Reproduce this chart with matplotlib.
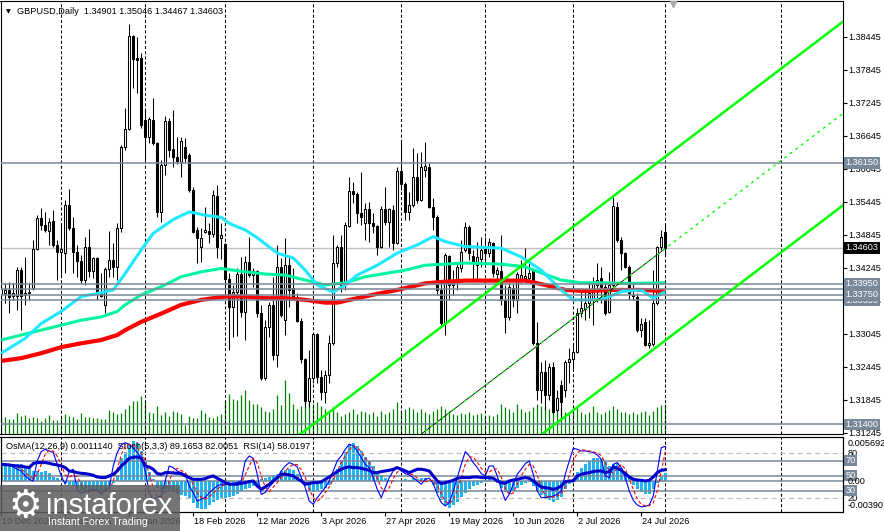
import matplotlib
matplotlib.use("Agg")
import matplotlib.pyplot as plt
import matplotlib.transforms as mtransforms
from matplotlib.patches import Rectangle
from matplotlib.ticker import FormatStrFormatter
import pandas as pd

plt.rcParams['font.family'] = ['Liberation Sans', 'DejaVu Sans']

symbol = "GBPUSD,Daily"
first_day = "2025-12-10"
closed_days = ["2025-12-25", "2026-01-01"]

# daily candles
opens = [1.3377, 1.3378, 1.3384, 1.3373, 1.3373, 1.3420, 1.3375, 1.3378, 1.3388, 1.3458,
         1.3515, 1.3502, 1.3491, 1.3509, 1.3466, 1.3453, 1.3451, 1.3538, 1.3497, 1.3453,
         1.3437, 1.3402, 1.3462, 1.3419, 1.3442, 1.3378, 1.3357, 1.3422, 1.3439, 1.3426,
         1.3497, 1.3644, 1.3677, 1.3846, 1.3806, 1.3806, 1.3693, 1.3662, 1.3693, 1.3651,
         1.3526, 1.3611, 1.3691, 1.3640, 1.3626, 1.3617, 1.3644, 1.3629, 1.3566, 1.3493,
         1.3462, 1.3489, 1.3491, 1.3486, 1.3555, 1.3479, 1.3468, 1.3404, 1.3353, 1.3380,
         1.3413, 1.3344, 1.3435, 1.3411, 1.3419, 1.3342, 1.3224, 1.3317, 1.3357, 1.3266,
         1.3426, 1.3329, 1.3429, 1.3388, 1.3371, 1.3328, 1.3258, 1.3182, 1.3224, 1.3304,
         1.3226, 1.3199, 1.3229, 1.3288, 1.3433, 1.3462, 1.3393, 1.3500, 1.3564, 1.3558,
         1.3524, 1.3506, 1.3531, 1.3506, 1.3500, 1.3462, 1.3531, 1.3508, 1.3529, 1.3469,
         1.3600, 1.3577, 1.3526, 1.3538, 1.3589, 1.3548, 1.3602, 1.3608, 1.3535, 1.3517,
         1.3384, 1.3324, 1.3446, 1.3393, 1.3398, 1.3424, 1.3457, 1.3499, 1.3446, 1.3429,
         1.3440, 1.3462, 1.3451, 1.3469, 1.3413, 1.3419, 1.3366, 1.3335, 1.3388, 1.3366,
         1.3402, 1.3406, 1.3406, 1.3419, 1.3288, 1.3202, 1.3235, 1.3193, 1.3244, 1.3166,
         1.3211, 1.3202, 1.3253, 1.3258, 1.3271, 1.3342, 1.3349, 1.3360, 1.3366, 1.3393,
         1.3406, 1.3389, 1.3344, 1.3393, 1.3535, 1.3475, 1.3451, 1.3426, 1.3375, 1.3371,
         1.3311, 1.3326, 1.3284, 1.3286, 1.3360, 1.3462, 1.34901]
highs = [1.3439, 1.3397, 1.3398, 1.3397, 1.3426, 1.3426, 1.3444, 1.3397, 1.3475, 1.3520,
         1.3533, 1.3526, 1.3515, 1.3529, 1.3475, 1.3506, 1.3548, 1.3568, 1.3517, 1.3466,
         1.3448, 1.3480, 1.3495, 1.3444, 1.3444, 1.3415, 1.3426, 1.3491, 1.3469, 1.3506,
         1.3648, 1.3715, 1.3868, 1.3848, 1.3844, 1.3815, 1.3711, 1.3699, 1.3733, 1.3653,
         1.3620, 1.3700, 1.3697, 1.3711, 1.3662, 1.3662, 1.3660, 1.3633, 1.3571, 1.3499,
         1.3497, 1.3535, 1.3506, 1.3566, 1.3575, 1.3506, 1.3469, 1.3415, 1.3393, 1.3424,
         1.3444, 1.3446, 1.3480, 1.3424, 1.3420, 1.3357, 1.3329, 1.3362, 1.3408, 1.3466,
         1.3442, 1.3479, 1.3444, 1.3424, 1.3378, 1.3333, 1.3260, 1.3275, 1.3306, 1.3306,
         1.3239, 1.3239, 1.3302, 1.3484, 1.3466, 1.3484, 1.3508, 1.3589, 1.3580, 1.3562,
         1.3599, 1.3542, 1.3544, 1.3524, 1.3502, 1.3537, 1.3571, 1.3533, 1.3539, 1.3608,
         1.3655, 1.3580, 1.3562, 1.3642, 1.3633, 1.3635, 1.3653, 1.3615, 1.3551, 1.3520,
         1.3398, 1.3451, 1.3448, 1.3420, 1.3435, 1.3475, 1.3508, 1.3502, 1.3457, 1.3471,
         1.3480, 1.3480, 1.3479, 1.3471, 1.3426, 1.3484, 1.3393, 1.3397, 1.3395, 1.3417,
         1.3439, 1.3460, 1.3433, 1.3424, 1.3326, 1.3253, 1.3257, 1.3251, 1.3253, 1.3202,
         1.3220, 1.3257, 1.3279, 1.3284, 1.3351, 1.3384, 1.3384, 1.3397, 1.3408, 1.3433,
         1.3426, 1.3397, 1.3417, 1.3553, 1.3544, 1.3480, 1.3453, 1.3429, 1.3397, 1.3378,
         1.3333, 1.3333, 1.3329, 1.3420, 1.3464, 1.3493, 1.35046]
lows = [1.3311, 1.3360, 1.3342, 1.3366, 1.3348, 1.3311, 1.3357, 1.3366, 1.3384, 1.3457,
        1.3493, 1.3489, 1.3466, 1.3462, 1.3402, 1.3408, 1.3415, 1.3493, 1.3415, 1.3408,
        1.3397, 1.3393, 1.3408, 1.3406, 1.3366, 1.3371, 1.3342, 1.3408, 1.3408, 1.3402,
        1.3489, 1.3639, 1.3675, 1.3751, 1.3742, 1.3679, 1.3620, 1.3651, 1.3648, 1.3517,
        1.3508, 1.3593, 1.3626, 1.3608, 1.3613, 1.3589, 1.3617, 1.3562, 1.3488, 1.3433,
        1.3435, 1.3488, 1.3469, 1.3480, 1.3442, 1.3440, 1.3384, 1.3275, 1.3299, 1.3300,
        1.3335, 1.3293, 1.3408, 1.3389, 1.3335, 1.3220, 1.3220, 1.3299, 1.3257, 1.3244,
        1.3335, 1.3302, 1.3353, 1.3366, 1.3326, 1.3251, 1.3171, 1.3171, 1.3215, 1.3215,
        1.3184, 1.3178, 1.3215, 1.3284, 1.3426, 1.3380, 1.3384, 1.3499, 1.3542, 1.3506,
        1.3502, 1.3475, 1.3471, 1.3488, 1.3448, 1.3460, 1.3502, 1.3462, 1.3457, 1.3467,
        1.3566, 1.3511, 1.3511, 1.3535, 1.3542, 1.3546, 1.3589, 1.3533, 1.3493, 1.3375,
        1.3317, 1.3302, 1.3366, 1.3375, 1.3384, 1.3417, 1.3453, 1.3439, 1.3402, 1.3402,
        1.3426, 1.3433, 1.3444, 1.3408, 1.3402, 1.3357, 1.3306, 1.3329, 1.3353, 1.3342,
        1.3397, 1.3398, 1.3398, 1.3284, 1.3184, 1.3178, 1.3166, 1.3184, 1.3160, 1.3162,
        1.3148, 1.3189, 1.3215, 1.3239, 1.3269, 1.3335, 1.3329, 1.3333, 1.3320, 1.3362,
        1.3360, 1.3339, 1.3342, 1.3389, 1.3471, 1.3420, 1.3424, 1.3366, 1.3366, 1.3307,
        1.3299, 1.3282, 1.3279, 1.3282, 1.3357, 1.3457, 1.34467]
closes = [1.3386, 1.3384, 1.3371, 1.3378, 1.3420, 1.3373, 1.3378, 1.3380, 1.3458, 1.3515,
          1.3502, 1.3493, 1.3508, 1.3466, 1.3453, 1.3458, 1.3538, 1.3497, 1.3453, 1.3437,
          1.3402, 1.3462, 1.3419, 1.3442, 1.3378, 1.3373, 1.3422, 1.3439, 1.3426, 1.3497,
          1.3644, 1.3677, 1.3846, 1.3804, 1.3802, 1.3684, 1.3662, 1.3695, 1.3651, 1.3526,
          1.3611, 1.3691, 1.3639, 1.3626, 1.3619, 1.3655, 1.3624, 1.3566, 1.3489, 1.3479,
          1.3479, 1.3493, 1.3486, 1.3557, 1.3462, 1.3484, 1.3404, 1.3353, 1.3380, 1.3413,
          1.3344, 1.3435, 1.3411, 1.3419, 1.3342, 1.3224, 1.3317, 1.3357, 1.3266, 1.3426,
          1.3339, 1.3429, 1.3384, 1.3371, 1.3328, 1.3258, 1.3182, 1.3224, 1.3304, 1.3226,
          1.3199, 1.3229, 1.3288, 1.3433, 1.3462, 1.3393, 1.3502, 1.3564, 1.3558, 1.3524,
          1.3517, 1.3531, 1.3506, 1.3500, 1.3462, 1.3531, 1.3508, 1.3531, 1.3469, 1.3600,
          1.3577, 1.3526, 1.3538, 1.3589, 1.3548, 1.3608, 1.3609, 1.3535, 1.3517, 1.3384,
          1.3324, 1.3448, 1.3393, 1.3400, 1.3426, 1.3453, 1.3499, 1.3451, 1.3433, 1.3444,
          1.3457, 1.3451, 1.3471, 1.3415, 1.3420, 1.3366, 1.3335, 1.3389, 1.3366, 1.3413,
          1.3411, 1.3409, 1.3415, 1.3288, 1.3202, 1.3235, 1.3193, 1.3244, 1.3162, 1.3188,
          1.3180, 1.3253, 1.3258, 1.3271, 1.3342, 1.3351, 1.3360, 1.3378, 1.3397, 1.3402,
          1.3389, 1.3342, 1.3393, 1.3537, 1.3475, 1.3451, 1.3426, 1.3378, 1.3373, 1.3311,
          1.3322, 1.3284, 1.3288, 1.3360, 1.3462, 1.3480, 1.34603]
# tick volume, thousands
volume = [18.3, 16.7, 15, 15, 21, 18.3, 19, 16, 16.7, 16,
          13.3, 16, 19, 14, 14.3, 15.7, 20, 18.3, 17.3, 15,
          21, 17.3, 17.3, 16, 16, 15, 15, 24, 22.3, 20,
          21, 25, 29, 32.7, 33, 38.3, 31.7, 22.3, 21, 28.3,
          19, 21.7, 18.3, 23, 21.7, 20, 9, 18.3, 15.7, 16,
          24, 21, 16.7, 16, 18.3, 20, 31.7, 40, 35, 34.3,
          39, 44, 34.3, 30, 30, 26.7, 23.3, 22.3, 25, 39,
          29.3, 54, 41, 30, 25, 28.3, 31.7, 31.7, 30, 32.3,
          28.3, 25, 21.7, 26.7, 21.7, 18.3, 20, 21.7, 25, 20,
          23.3, 21.7, 20, 21.7, 18.3, 23.3, 20, 21.7, 25, 31.7,
          21.7, 25, 26.7, 25, 21.7, 25, 21.7, 20, 23.3, 25,
          28.3, 25, 23.3, 20, 19, 21, 20, 22, 19, 20,
          21, 18, 19, 18, 20, 30, 26.7, 25, 21.7, 30,
          25, 21.7, 23, 26.7, 30, 28, 26.7, 25, 27.7, 23,
          25.7, 21.7, 20, 21.7, 26.7, 22.3, 20, 21.7, 27.7, 22.3,
          20, 22.3, 24.3, 27.7, 25, 21.7, 22.3, 20, 21.7, 20,
          22.3, 23.3, 19, 23.3, 26.7, 29, 30]

# moving averages (bar index, value)
ma_fast_bars = [0, 6, 10, 15, 20, 25, 28, 31, 35, 38, 43, 47, 51, 55, 57, 61, 64, 69, 73, 76,
                79, 83, 86, 89, 94, 99, 104, 108, 111, 116, 125, 130, 135, 140, 143, 148, 151,
                155, 160, 163, 166]
ma_fast = [1.3269, 1.3296, 1.3323, 1.3345, 1.3372, 1.3379, 1.3384, 1.3414, 1.3457, 1.3487,
           1.3512, 1.3526, 1.3520, 1.3516, 1.3505, 1.3493, 1.3479, 1.3451, 1.3442, 1.3420,
           1.3393, 1.3380, 1.3393, 1.3411, 1.3429, 1.3451, 1.3466, 1.3481, 1.3472, 1.3463,
           1.3460, 1.3444, 1.3420, 1.3384, 1.3366, 1.3366, 1.3369, 1.3381, 1.3384, 1.3369,
           1.3381]
ma_mid_bars = [0, 5, 10, 15, 20, 25, 29, 31, 35, 40, 45, 50, 55, 57, 61, 66, 71, 76, 81, 86,
               91, 96, 101, 106, 111, 116, 125, 131, 135, 140, 145, 150, 158, 166]
ma_mid = [1.3293, 1.3302, 1.3311, 1.3320, 1.3329, 1.3335, 1.3345, 1.3357, 1.3375, 1.3390,
          1.3408, 1.3417, 1.3423, 1.3421, 1.3417, 1.3413, 1.3411, 1.3402, 1.3393, 1.3397,
          1.3408, 1.3414, 1.3420, 1.3429, 1.3431, 1.3433, 1.3431, 1.3426, 1.3415, 1.3402,
          1.3397, 1.3397, 1.3396, 1.3397]
ma_slow_bars = [0, 5, 10, 15, 20, 25, 29, 31, 35, 40, 45, 50, 55, 56, 61, 66, 71, 76, 81, 84,
                89, 94, 99, 106, 111, 116, 125, 131, 136, 141, 146, 153, 160, 166]
ma_slow = [1.3255, 1.3260, 1.3269, 1.3280, 1.3287, 1.3293, 1.3302, 1.3311, 1.3326, 1.3341,
           1.3357, 1.3366, 1.3371, 1.3372, 1.3372, 1.3369, 1.3369, 1.3366, 1.3361, 1.3361,
           1.3369, 1.3377, 1.3384, 1.3396, 1.3399, 1.3401, 1.3401, 1.3401, 1.3393, 1.3384,
           1.3382, 1.3384, 1.3384, 1.3382]

# ascending channel: upper line through two bars, parallel lines below
chan_bars = [78, 166]
chan_upper = [1.31397, 1.36263]
chan_width = 0.0334

levels = [1.3615, 1.3385, 1.3365, 1.3395, 1.3375, 1.3140]
last_price = 1.34603
price_ticks = [1.31245, 1.31845, 1.32445, 1.33045, 1.33645, 1.34245, 1.34845,
               1.35445, 1.36045, 1.36645, 1.37245, 1.37845, 1.38445]

osma = [0.0020, 0.0021, 0.0021, 0.0022, 0.0023, 0.0022, 0.0020,
        0.0017, 0.0014, 0.0013, 0.0012, 0.0013, 0.0011,
        0.0006, 0.0004, 0.0002, -0.0002,
        -0.0004, -0.0006, -0.0009, -0.0011, -0.0013, -0.0014, -0.0013, -0.0014, -0.0015, -0.0013, -0.0008,
        -0.0002, 0.0008, 0.0030, 0.0038, 0.0048, 0.0052, 0.0050, 0.0040, 0.0025, 0.0012, 0.0003,
        -0.0008, -0.0012, -0.0010, -0.0011, -0.0013, -0.0016, -0.0017, -0.0019, -0.0022, -0.0028,
        -0.0034, -0.0035, -0.0035, -0.0031, -0.0027, -0.0024, -0.0022, -0.0022, -0.0020, -0.0019,
        -0.0016, -0.0012, -0.0010, -0.0008, -0.0006, -0.0004,
        0.0003, 0.0004, 0.0006, 0.0008, 0.0010, 0.0013, 0.0015, 0.0016, 0.0015, 0.0010, 0.0003,
        -0.0004, -0.0012, -0.0013, -0.0012, -0.0010, -0.0008, -0.0004,
        0.0004, 0.0016, 0.0028, 0.0038, 0.0048, 0.0050, 0.0046, 0.0040, 0.0032, 0.0026, 0.0020,
        0.0012, 0.0008, 0.0004, 0.0002, 0.0002, 0.0001, 0.0002, 0.0003, 0.0002, 0.0004, 0.0003,
        0.0004, 0.0005, 0.0002,
        -0.0005, -0.0015, -0.0024, -0.0030, -0.0034, -0.0030, -0.0026, -0.0020, -0.0015, -0.0010,
        -0.0006, -0.0004, -0.0002,
        0.0002, 0.0003, 0.0001,
        -0.0002, -0.0008, -0.0014, -0.0016, -0.0012, -0.0008, -0.0004, -0.0002,
        0.0004,
        -0.0006, -0.0012, -0.0018, -0.0022, -0.0024, -0.0026, -0.0024, -0.0020, -0.0010, -0.0003,
        0.0003, 0.0012, 0.0018, 0.0022, 0.0026, 0.0030, 0.0030, 0.0029, 0.0026, 0.0020, 0.0022,
        0.0024, 0.0018, 0.0012, 0.0004,
        -0.0004, -0.0010, -0.0014, -0.0016, -0.0016, -0.0010, -0.0002,
        0.0006, 0.001114]
stoch_main = [65.3, 65.3, 65.3, 61.8, 58.7, 56.4, 49.8, 45.3, 43.1, 69.8,
              82.2, 85.3, 83.1, 80.9, 65.3, 49.8, 38.7, 55.6, 58.7, 32.0,
              26.2, 28.9, 29.8, 32.0, 30.7, 25.3, 30.7, 34.2, 63.1, 80.9,
              91.1, 94.2, 92.0, 87.6, 80.9, 74.2, 56.4, 27.6, 18.7, 21.8,
              23.1, 43.1, 63.1, 60.9, 56.4, 54.2, 52.0, 36.4, 27.6, 16.4,
              18.7, 20.9, 27.6, 32.0, 36.4, 38.7, 38.7, 38.7, 39.6, 40.9,
              43.1, 69.8, 76.4, 73.3, 52.0, 25.3, 27.6, 35.1, 40.9, 47.6,
              56.4, 63.1, 67.6, 65.3, 61.8, 47.6, 34.2, 16.4, 12.0, 20.9,
              27.6, 34.2, 43.1, 56.4, 69.8, 76.4, 85.3, 92.0, 89.8, 83.1,
              74.2, 65.3, 60.9, 47.6, 32.0, 20.9, 34.2, 47.6, 56.4, 60.9,
              56.4, 52.9, 51.1, 47.6, 43.1, 38.7, 45.3, 46.7, 39.6, 25.3,
              14.2, 9.8, 14.2, 29.8, 47.6, 65.3, 82.2, 76.4, 67.6, 60.9,
              52.9, 49.8, 63.1, 63.1, 49.8, 32.0, 17.3, 25.3, 38.7, 52.0,
              58.7, 66.2, 69.8, 52.0, 29.8, 20.9, 20.9, 21.8, 23.1, 25.3,
              29.8, 52.0, 69.8, 86.7, 85.3, 83.1, 83.1, 82.2, 80.9, 77.8,
              72.0, 49.8, 47.6, 65.3, 67.6, 60.9, 47.6, 29.8, 17.3, 11.1,
              8.4, 9.3, 11.1, 23.1, 56.4, 87.6, 89.1653]
stoch_signal = [64, 65, 65, 64, 62, 59, 55, 50, 46, 53,
                65, 79, 84, 83, 76, 65, 51, 48, 51, 49,
                39, 29, 28, 30, 31, 29, 29, 30, 43, 59,
                78, 89, 92, 91, 87, 81, 70, 53, 34, 23,
                21, 29, 43, 56, 60, 57, 54, 48, 39, 27,
                21, 19, 22, 27, 32, 36, 38, 39, 39, 40,
                41, 51, 63, 73, 67, 50, 35, 29, 35, 41,
                48, 56, 62, 65, 65, 58, 48, 33, 21, 16,
                20, 28, 35, 45, 56, 67, 77, 85, 89, 88,
                82, 74, 67, 58, 47, 34, 29, 34, 46, 55,
                58, 57, 53, 51, 47, 43, 42, 44, 44, 37,
                26, 16, 13, 18, 31, 48, 65, 75, 75, 68,
                60, 55, 55, 59, 59, 48, 33, 25, 27, 39,
                50, 59, 65, 63, 51, 34, 24, 21, 22, 23,
                26, 36, 50, 70, 80, 85, 84, 83, 82, 80,
                77, 67, 56, 54, 60, 65, 59, 46, 32, 19,
                12, 10, 10, 14, 30, 56, 82.0051]
rsi = [65.3, 64.9, 64.4, 63.6, 63.1, 62.7, 61.8, 60.9, 66.2, 67.6,
       67.6, 67.6, 66.7, 65.3, 64.4, 63.1, 60.9, 56.4, 55.6, 54.2,
       53.3, 52.9, 52.0, 50.7, 48.4, 47.6, 47.6, 49.8, 52.0, 56.4,
       63.1, 67.6, 73.3, 74.7, 75.1, 73.3, 63.1, 61.8, 58.7, 52.9,
       52.0, 54.2, 54.2, 53.8, 53.3, 52.9, 49.8, 47.6, 45.3, 45.3,
       45.3, 46.2, 48.4, 49.8, 46.7, 44.0, 40.9, 38.7, 38.7, 38.7,
       40.0, 40.9, 42.2, 43.1, 36.4, 32.0, 35.1, 38.7, 43.1, 47.6,
       52.0, 52.0, 51.1, 49.8, 46.2, 43.1, 38.7, 39.6, 40.9, 40.9,
       41.8, 45.3, 48.4, 52.0, 55.6, 58.7, 60.9, 61.8, 60.9, 60.9,
       60.0, 58.7, 57.3, 54.2, 54.2, 55.6, 56.4, 57.3, 58.7, 60.9,
       58.7, 56.4, 54.2, 56.4, 58.7, 58.7, 57.8, 56.4, 49.8, 43.1,
       39.6, 40.9, 42.2, 44.0, 46.7, 47.6, 47.6, 47.6, 48.4, 48.4,
       47.6, 47.6, 47.6, 46.7, 43.1, 40.9, 40.0, 43.1, 44.4, 45.3,
       46.7, 47.6, 46.7, 43.1, 38.7, 35.1, 34.2, 33.3, 32.0, 33.3,
       36.4, 42.2, 43.1, 43.1, 49.8, 52.0, 53.3, 54.2, 55.6, 56.4,
       56.4, 54.2, 55.6, 61.8, 60.0, 57.3, 52.9, 48.4, 45.3, 44.4,
       44.0, 43.1, 44.0, 48.4, 54.2, 57.3, 58.0197]

future_separator = 195

n = len(closes)
bars = list(range(n))
dates = pd.bdate_range(first_day, periods=n, freq="C", holidays=closed_days)
separators = [i for i in range(1, n) if dates[i].month != dates[i - 1].month] + [future_separator]
label_bars = list(range(0, n, 16))

W, H = 884.0, 531.0
FS = 6.6
SLATE = '#778899'


def place(x0, y0, x1, y1):
    return [x0 / W, 1 - y1 / H, (x1 - x0) / W, (y1 - y0) / H]


fig = plt.figure(figsize=(W / 100, H / 100), dpi=100)
ax = fig.add_axes(place(0.5, 1, 842.5, 434))
vax = ax.twinx()
vax.set_zorder(ax.get_zorder() - 1)
vax.patch.set_visible(True)
vax.patch.set_facecolor('white')
ax.patch.set_visible(False)

x_range = (-0.175, 210.3)
ax.set_xlim(*x_range)
ax.set_ylim(1.31221, 1.39094)

# volumes
vax.vlines(bars, 0, volume, color='#008000', lw=0.9)
vax.set_ylim(0, max(volume) * 8)
vax.set_yticks([])
for s in vax.spines.values():
    s.set_visible(False)

# candles
bottoms = [min(o, c) for o, c in zip(opens, closes)]
heights = [max(abs(c - o), 0.00003) for o, c in zip(opens, closes)]
faces = ['white' if c >= o else 'black' for o, c in zip(opens, closes)]
ax.vlines(bars, lows, highs, color='black', lw=0.75, zorder=3)
ax.bar(bars, heights, bottom=bottoms, width=0.5, color=faces,
       edgecolor='black', linewidth=0.75, zorder=4)

# moving averages
ax.plot(ma_slow_bars, ma_slow, color='#FF0000', lw=3.0, zorder=6, solid_capstyle='butt')
ax.plot(ma_mid_bars, ma_mid, color='#00F5A0', lw=2.2, zorder=6, solid_capstyle='butt')
ax.plot(ma_fast_bars, ma_fast, color='#1EE8FF', lw=2.2, zorder=6, solid_capstyle='butt')

# levels
ax.axhline(last_price, color='#C0C0C0', lw=1.0, zorder=2)
for lv in levels:
    ax.axhline(lv, color=SLATE, lw=1.1, zorder=7)

# channel
slope = (chan_upper[1] - chan_upper[0]) / (chan_bars[1] - chan_bars[0])
cx = [60, 215]
upper = [chan_upper[0] + slope * (t - chan_bars[0]) for t in cx]
lower = [u - chan_width for u in upper]
middle = [u - chan_width / 2 for u in upper]
ax.plot(cx, upper, color='#00FF00', lw=1.8, zorder=8)
ax.plot(cx, lower, color='#00FF00', lw=1.8, zorder=8)
mx_end = [cx[0], n - 1]
ax.plot(mx_end, [middle[0], middle[0] + slope * (mx_end[1] - cx[0])], color='black', lw=0.6, zorder=8)
ax.plot(cx, middle, color='#00FF00', lw=1.0, ls=(0, (2, 3)), zorder=8)

# month separators
for sx in separators:
    ax.axvline(sx, color='black', lw=0.75, ls=(0, (3, 2)), zorder=1)

# price axis on the right
ax.yaxis.tick_right()
ax.set_yticks(price_ticks)
ax.yaxis.set_major_formatter(FormatStrFormatter('%.5f'))
ax.tick_params(axis='y', right=True, left=False, direction='out', length=3,
               width=0.8, pad=1, labelsize=FS)
ax.tick_params(axis='x', bottom=False, labelbottom=False)
for s in ax.spines.values():
    s.set_color('black')
    s.set_linewidth(0.8)

tr_main = mtransforms.blended_transform_factory(ax.transAxes, ax.transData)


def tag(axis_tr, y, text, bg, fg='white'):
    ax.text(1.0036, y, text, transform=axis_tr, ha='left', va='center', fontsize=FS,
            color=fg, clip_on=False, zorder=20,
            bbox=dict(boxstyle='square,pad=0.12', fc=bg, ec='none'))


for lv in levels:
    tag(tr_main, lv, f"{lv:.5f}", SLATE)
tag(tr_main, last_price, f"{last_price:.5f}", 'black')

ax.text(0.006, 0.975, "\u25bc", transform=ax.transAxes, fontsize=4.5,
        family=['DejaVu Sans'], va='center', ha='left')
ax.text(0.0195, 0.975,
        f"{symbol}  {opens[-1]:.5f} {highs[-1]:.5f} {lows[-1]:.5f} {closes[-1]:.5f}",
        transform=ax.transAxes, fontsize=FS, va='center', ha='left')
ax.plot([168], [0.993], transform=mtransforms.blended_transform_factory(ax.transData, ax.transAxes),
        marker='v', ms=5, color='#A8A8A8', clip_on=False, zorder=20)

# indicator window: OsMA + Stochastic + RSI
axs = fig.add_axes(place(0.5, 437, 842.5, 512))
axs.set_xlim(*x_range)
osma_lim = (-0.00395, 0.00575)
axs.set_ylim(*osma_lim)
axs.bar(bars, osma, width=0.7, color='#22B4F0', zorder=2)
axs.axhline(0, color=SLATE, lw=1.1, zorder=3)
for sx in separators:
    axs.axvline(sx, color='black', lw=0.75, ls=(0, (3, 2)), zorder=1)

axo = axs.twinx()
axo.set_ylim(1.73, 101.7)
for lv in (80, 20):
    axo.axhline(lv, color='#C0C0C0', lw=0.9, ls=(0, (4, 3)), zorder=1)
for lv in (70, 50, 30):
    axo.axhline(lv, color=SLATE, lw=1.1, zorder=1)
axo.plot(bars, stoch_main, color='#0000FF', lw=0.8, zorder=3)
axo.plot(bars, stoch_signal, color='#FF0000', lw=0.8, ls=(0, (3, 2)), zorder=3)
axo.plot(bars, rsi, color='#0000CD', lw=2.2, zorder=4)

axs.set_yticks([])
axo.set_yticks([])
axs.set_xticks(label_bars)
axs.tick_params(axis='x', direction='out', length=3, width=0.8, labelbottom=False)
for a in (axs, axo):
    for s in a.spines.values():
        s.set_color('black')
        s.set_linewidth(0.8)

tr_osc = mtransforms.blended_transform_factory(axs.transAxes, axo.transData)
tr_osma = mtransforms.blended_transform_factory(axs.transAxes, axs.transData)
for lv in (80, 20):
    axs.text(1.0055, lv, str(lv), transform=tr_osc, ha='left', va='center', fontsize=FS, clip_on=False)
for lv in (70, 50, 30):
    axs.text(1.0036, lv, str(lv), transform=tr_osc, ha='left', va='center', fontsize=FS,
             color='white', clip_on=False, zorder=20,
             bbox=dict(boxstyle='square,pad=0.12', fc=SLATE, ec='none'))
axs.text(1.0055, 0, "0.00", transform=tr_osma, ha='left', va='center', fontsize=FS, clip_on=False, zorder=21)
axs.text(1.0055, 0.97, f"{max(osma) + 0.000492:.6f}", transform=axs.transAxes, ha='left', va='top',
         fontsize=FS, clip_on=False)
axs.text(1.0055, 0.02, f"{min(osma) - 0.000407:.6f}", transform=axs.transAxes, ha='left', va='bottom',
         fontsize=FS, clip_on=False)
axs.text(0.006, 0.87,
         f"OsMA(12,26,9) {osma[-1]:.7f}  Stoch(5,3,3) {stoch_main[-1]:.4f} {stoch_signal[-1]:.4f}  "
         f"RSI(14) {rsi[-1]:.4f}",
         transform=axs.transAxes, ha='left', va='center', fontsize=FS, zorder=20)

# date labels
tr_dates = mtransforms.blended_transform_factory(axs.transData, axs.transAxes)
for b in label_bars:
    d = dates[b]
    axs.text(b + 0.3, -0.12, f"{d.day} {d.strftime('%b %Y')}", transform=tr_dates,
             ha='left', va='center', fontsize=FS, clip_on=False)

# broker logo
fig.patches.append(Rectangle((0, 0), 180 / W, 46 / H, transform=fig.transFigure,
                             fc='#5c5c5c', ec='none', alpha=0.85, zorder=30))
fig.text(25 / W, 1 - 507 / H, "\u2699", color='white', fontsize=27, family=['DejaVu Sans'],
         ha='center', va='center', zorder=31)
fig.text(46 / W, 1 - 514 / H, "instaforex", color='white', fontsize=21, ha='left',
         va='baseline', zorder=31)
fig.text(48 / W, 1 - 522 / H, "Instant Forex Trading", color='white', fontsize=7.6,
         ha='left', va='center', zorder=31)

fig.savefig("out.png", dpi=100)
